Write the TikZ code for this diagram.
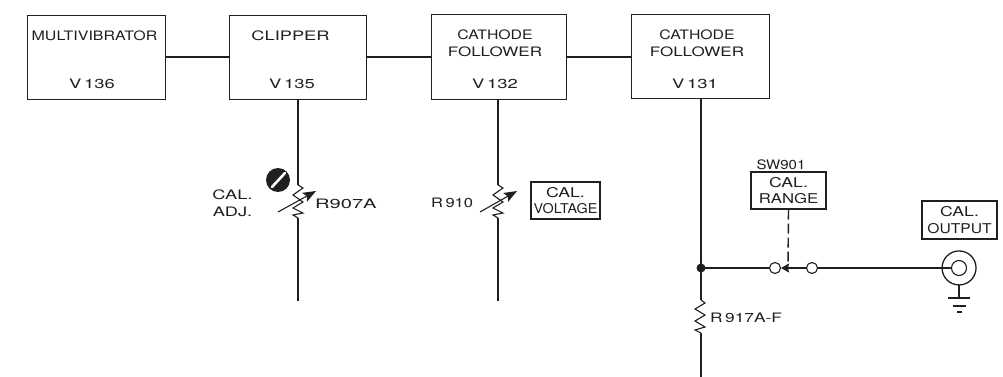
\documentclass[tikz,border=0pt]{standalone}
\usepackage{graphicx}
\usepackage{fontspec}
\setmainfont{TeX Gyre Heros}
\newfontfamily\widefont[FakeStretch=1.18]{TeX Gyre Heros}
\usetikzlibrary{arrows.meta}
\definecolor{ink}{gray}{0.12}
\newcommand{\sx}[2]{\scalebox{#1}[1]{#2}}
\tikzset{
  x=1pt,y=-1pt,
  wire/.style={line width=1.5pt,ink},
  blockbox/.style={draw=ink,line width=1.3pt,minimum height=84pt,anchor=north west,inner sep=0pt},
  smallbox/.style={draw=ink,line width=1.1pt,inner sep=0pt,align=center,text=ink,font=\widefont\fontsize{13.5}{16.5}\selectfont},
  lab/.style={font=\widefont\fontsize{13}{17}\selectfont,align=center,inner sep=0pt,text=ink},
  blocktext/.style={font=\widefont\fontsize{13}{17}\selectfont,align=center,inner sep=0pt,text=ink},
  openterm/.style={circle,draw=ink,line width=1.1pt,fill=white,minimum size=11pt,inner sep=0pt},
  res/.style={line width=1.1pt,ink,line join=miter},
  varrow/.style={line width=1.1pt,ink,-{Stealth[length=13pt,width=10pt,inset=2.5pt]}},
}
\begin{document}
\begin{tikzpicture}
\useasboundingbox (0,0) rectangle (1003,377);
\node[blockbox,minimum width=138pt] (mv) at (27,15) {};
\node[blockbox,minimum width=137pt] (cl) at (229,15) {};
\node[blockbox,minimum width=135pt,minimum height=85pt] (cf1) at (431,14) {};
\node[blockbox,minimum width=138pt] (cf2) at (631,14) {};
\node[blocktext] at (94.5,36) {\sx{1.04}{MULTIVIBRATOR}};
\node[blocktext] at (290.5,36) {\sx{1.19}{CLIPPER}};
\node[blocktext] at (495,43.5) {\sx{1.03}{CATHODE}\\\sx{1.11}{FOLLOWER}};
\node[blocktext] at (697,43.5) {\sx{1.03}{CATHODE}\\\sx{1.11}{FOLLOWER}};
\node[blocktext] at (92,84) {\sx{1.2}{V\,136}};
\node[blocktext] at (292,84) {\sx{1.2}{V\,135}};
\node[blocktext] at (495,84) {\sx{1.2}{V\,132}};
\node[blocktext] at (695,84) {\sx{1.2}{V\,131}};
\draw[wire] (mv.east |- 0,57) coordinate (a1) -- (cl.west |- a1);
\draw[wire] (cl.east |- 0,57) coordinate (a2) -- (cf1.west |- a2);
\draw[wire] (cf1.east |- 0,57) coordinate (a3) -- (cf2.west |- a3);
% R907A
\coordinate (r1top) at (298,185);
\coordinate (r1bot) at (298,218);
\coordinate (r1end) at (298,301);
\draw[wire] (298,99) -- (r1top);
\draw[wire] (r1bot) -- (r1end);
\draw[res] (r1top) -- (303,188) -- (293,195) -- (303,202) -- (293,208) -- (303,213) -- (293,215) -- (r1bot);
\draw[varrow] (278,212) -- (316,191);
\node[lab] at (232.5,203.5) {\sx{1.19}{CAL.}\\\sx{1.19}{ADJ.}};
\node[lab,anchor=west] at (315,204) {\sx{1.31}{R907A}};
\node[circle,fill=ink,minimum size=24pt,inner sep=0pt] (scr) at (278,180) {};
\draw[white,line width=2.6pt,line cap=round] (272,187) -- (285,173);
% R910
\coordinate (r2top) at (498,185);
\coordinate (r2bot) at (498,218);
\draw[wire] (498,99) -- (r2top);
\draw[wire] (r2bot) -- (498,301);
\draw[res] (r2top) -- (503,188) -- (493,195) -- (503,202) -- (493,208) -- (503,213) -- (493,215) -- (r2bot);
\draw[varrow] (480,212) -- (517,191);
\node[lab,anchor=west] at (431,203) {\sx{1.08}{R\,910}};
\node[smallbox,minimum width=69pt,minimum height=37pt] (cv) at (565.5,200.5) {\sx{1.11}{CAL.}\\\sx{0.9}{VOLTAGE}};
% right side
\coordinate (jn) at (701,268);
\draw[wire] (701,99) -- (jn) -- (701,300);
\coordinate (r3bot) at (701,333);
\draw[res] (701,300) -- (705,303) -- (695,309) -- (705,315) -- (695,321) -- (705,327) -- (695,330) -- (r3bot);
\draw[wire] (r3bot) -- (701,377);
\fill[ink] (jn) circle (4.5pt);
\node[openterm] (t1) at (775,268) {};
\node[openterm] (t2) at (812,268) {};
\draw[wire] (jn) -- (t1);
\draw[wire,-{Stealth[length=8pt,width=9pt,inset=1pt]}] (t2) -- (781,268);
\node[smallbox,minimum width=75pt,minimum height=37pt] (rng) at (788.5,190.5) {\sx{1.11}{CAL.}\\\sx{1.05}{RANGE}};
\node[lab,anchor=south] at (781,170) {\sx{0.98}{SW901}};
\coordinate (dashend) at (788,265);
\draw[line width=1.4pt,ink,dash pattern=on 10pt off 4pt] (rng.south) -- (dashend);
\node[lab,anchor=west] at (710,318) {\sx{1.13}{R\,917A-F}};
\node[circle,draw=ink,line width=1.1pt,minimum size=15pt,inner sep=0pt] (jack) at (959,268) {};
\draw[wire] (t2) -- (jack.west);
\draw[line width=1.3pt,ink] (942.3,265) arc[start angle=190,end angle=-170,radius=17] ;
\coordinate (gnd) at (959,298);
\draw[line width=1.1pt,ink] (959,285) -- (gnd);
\draw[line width=1.1pt,ink] (948,298) -- (970,298);
\draw[line width=1.1pt,ink] (953,306) -- (966,306);
\draw[line width=1.1pt,ink] (957,312) -- (962,312);
\node[smallbox,minimum width=75pt,minimum height=38pt] (out) at (959.5,220) {\sx{1.11}{CAL.}\\\sx{0.98}{OUTPUT}};
\end{tikzpicture}
\end{document}
